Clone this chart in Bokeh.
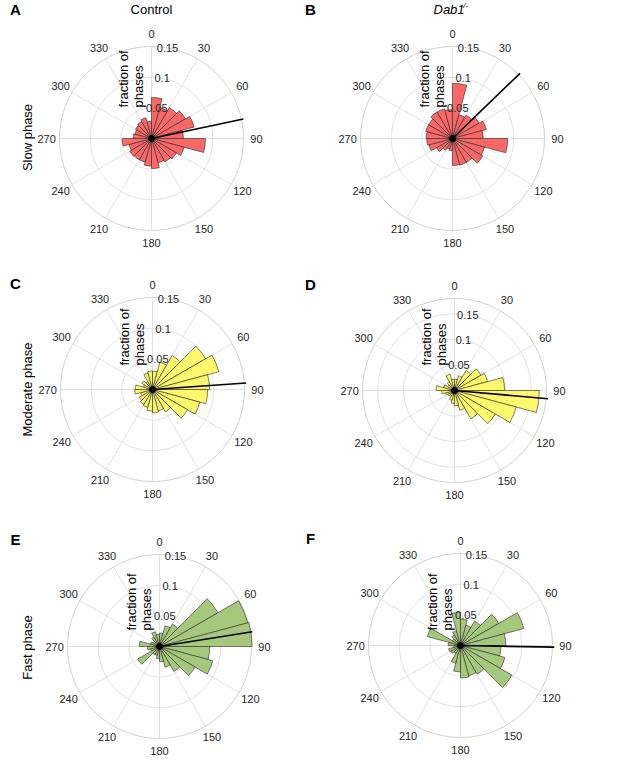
import numpy as np
from bokeh.plotting import figure
from bokeh.models import Range1d
from bokeh.embed import file_html
from bokeh.resources import INLINE
from bokeh.core.properties import value

# ---------------- data ----------------
bin_start_deg = [0, 15, 30, 45, 60, 75, 90, 105, 120, 135, 150, 165,
                 180, 195, 210, 225, 240, 255, 270, 285, 300, 315, 330, 345]
bin_width_deg = 15
angle_ticks = [0, 30, 60, 90, 120, 150, 180, 210, 240, 270, 300, 330]
r_ticks = [0.05, 0.1, 0.15]
r_tick_labels = ["0.05", "0.1", "0.15"]

control_slow = [0.067, 0.052, 0.058, 0.064, 0.072, 0.052, 0.088, 0.055,
                0.047, 0.044, 0.041, 0.049, 0.045, 0.040, 0.040, 0.041,
                0.038, 0.048, 0.030, 0.028, 0.030, 0.032, 0.035, 0.028]
dab1_slow = [0.090, 0.040, 0.044, 0.050, 0.057, 0.050, 0.090, 0.054,
             0.057, 0.045, 0.045, 0.044, 0.020, 0.018, 0.022, 0.030,
             0.040, 0.042, 0.043, 0.045, 0.045, 0.050, 0.050, 0.047]
control_moderate = [0.030, 0.046, 0.064, 0.100, 0.112, 0.093, 0.090, 0.080,
                    0.066, 0.042, 0.036, 0.038, 0.035, 0.030, 0.028, 0.025,
                    0.020, 0.029, 0.028, 0.015, 0.020, 0.015, 0.028, 0.030]
dab1_moderate = [0.022, 0.030, 0.045, 0.060, 0.067, 0.098, 0.166, 0.125,
                 0.092, 0.064, 0.040, 0.030, 0.025, 0.020, 0.012, 0.015,
                 0.018, 0.025, 0.036, 0.022, 0.015, 0.020, 0.033, 0.022]
control_fast = [0.022, 0.035, 0.042, 0.110, 0.149, 0.151, 0.082, 0.090,
                0.067, 0.047, 0.035, 0.025, 0.020, 0.015, 0.015, 0.041,
                0.015, 0.020, 0.033, 0.015, 0.012, 0.018, 0.025, 0.020]
dab1_fast = [0.043, 0.034, 0.046, 0.072, 0.107, 0.074, 0.066, 0.075,
             0.097, 0.054, 0.051, 0.053, 0.043, 0.030, 0.015, 0.018,
             0.020, 0.012, 0.020, 0.056, 0.015, 0.020, 0.025, 0.054]

mean_dir_deg = {"A": 78, "B": 46, "C": 86, "D": 95, "E": 81, "F": 91}
r_limits = {"A": 0.15, "B": 0.15, "C": 0.15, "D": 0.18, "E": 0.15, "F": 0.15}

col_titles = ["Control", "Dab1"]
row_titles = ["Slow phase", "Moderate phase", "Fast phase"]

# ---------------- layout / style ----------------
W, H = 600, 756
R_PX = 92
FONT = "Liberation Sans"
RED, YELLOW, GREEN = "#F96767", "#FDF86C", "#A5C87D"

panels = [
    dict(key="A", vals=control_slow, color=RED, c=(151, 138), fb=31),
    dict(key="B", vals=dab1_slow, color=RED, c=(452, 138), fb=31),
    dict(key="C", vals=control_moderate, color=YELLOW, c=(152, 389), fb=24),
    dict(key="D", vals=dab1_moderate, color=YELLOW, c=(454, 390), fb=25),
    dict(key="E", vals=control_fast, color=GREEN, c=(159, 646), fb=16),
    dict(key="F", vals=dab1_fast, color=GREEN, c=(460, 645), fb=15),
]


def py(y):
    return H - y


p = figure(width=W, height=H, x_range=Range1d(0, W), y_range=Range1d(0, H),
           x_axis_type=None, y_axis_type=None, output_backend="svg",
           toolbar_location=None, min_border=0)
p.outline_line_color = None
p.xgrid.visible = False
p.ygrid.visible = False

xr, yr = {}, {}
for pn in panels:
    rmax = r_limits[pn["key"]]
    s = R_PX / rmax
    cx, cy = pn["c"]
    xr[pn["key"]] = Range1d(-cx / s, (W - cx) / s)
    yr[pn["key"]] = Range1d(-(H - cy) / s, cy / s)
p.extra_x_ranges = xr
p.extra_y_ranges = yr

th_start = np.array(bin_start_deg, dtype=float)
tick_a = np.deg2rad(np.array(angle_ticks, dtype=float))

for pn in panels:
    k = pn["key"]
    rmax = r_limits[k]
    kw = dict(x_range_name=k, y_range_name=k)
    # rings
    rings = [r for r in r_ticks if r < rmax - 1e-9]
    p.circle(x=[0] * len(rings), y=[0] * len(rings), radius=rings,
             fill_color=None, line_color="#E2E2E2", line_width=1, **kw)
    p.circle(x=[0], y=[0], radius=[rmax], fill_color=None,
             line_color="#D2D2D2", line_width=1, **kw)
    # spokes
    p.segment(x0=np.zeros(len(tick_a)), y0=np.zeros(len(tick_a)),
              x1=rmax * np.sin(tick_a), y1=rmax * np.cos(tick_a),
              line_color="#E2E2E2", line_width=1, **kw)
    # bars
    p.wedge(x=np.zeros(len(th_start)), y=np.zeros(len(th_start)),
            radius=pn["vals"],
            start_angle=np.deg2rad(90 - (th_start + bin_width_deg)),
            end_angle=np.deg2rad(90 - th_start),
            fill_color=pn["color"], line_color="#2a2a2a", line_width=0.6,
            **kw)
    # mean direction
    md = np.deg2rad(mean_dir_deg[k])
    p.segment(x0=[0], y0=[0], x1=[1.02 * rmax * np.sin(md)],
              y1=[1.02 * rmax * np.cos(md)], line_color="black",
              line_width=1.6, **kw)
    p.scatter(x=[0], y=[0], size=6, color="black", **kw)
    # angle labels
    rl = rmax * 1.14
    p.text(x=rl * np.sin(tick_a), y=rl * np.cos(tick_a),
           text=[str(a) for a in angle_ticks], text_align="center",
           text_baseline="middle", text_font=value(FONT),
           text_font_size="11px", text_color="#262626", **kw)
    # radial labels
    ra = np.deg2rad(10)
    rt = np.array(r_ticks)
    p.text(x=rt * np.sin(ra), y=rt * np.cos(ra), text=r_tick_labels,
           text_align="center", text_baseline="middle",
           text_font=value(FONT), text_font_size="11px",
           text_color="#262626", **kw)
    # fraction of phases label
    cx, cy = pn["c"]
    p.text(x=[cx - 28, cx - 13], y=[py(cy - pn["fb"])] * 2,
           text=["fraction of", "phases"], angle=np.pi / 2,
           text_align="left", text_baseline="middle",
           text_font=value(FONT), text_font_size="13px", text_color="black")
    # panel letter
    lx = 15 if cx < 300 else 310
    p.text(x=[lx], y=[py(cy - 129 if k in "AB" else cy - 106 if k in "CD" else cy - 107)],
           text=[k], text_align="center", text_baseline="middle",
           text_font=value(FONT), text_font_size="15px",
           text_font_style="bold", text_color="black")

# column titles
p.text(x=[151], y=[py(9)], text=[col_titles[0]], text_align="center",
       text_baseline="middle", text_font=value(FONT), text_font_size="13px")
p.text(x=[433], y=[py(9)], text=[col_titles[1]], text_align="left",
       text_baseline="middle", text_font=value(FONT), text_font_size="13px",
       text_font_style="italic")
p.text(x=[460], y=[py(5)], text=["-/-"], text_align="left",
       text_baseline="middle", text_font=value(FONT), text_font_size="8px",
       text_font_style="italic")

# row titles
for name, yc in zip(row_titles, [137, 389, 647]):
    p.text(x=[27], y=[py(yc)], text=[name], angle=np.pi / 2,
           text_align="center", text_baseline="middle",
           text_font=value(FONT), text_font_size="13px")

open("out.html", "w").write(file_html(p, INLINE))
